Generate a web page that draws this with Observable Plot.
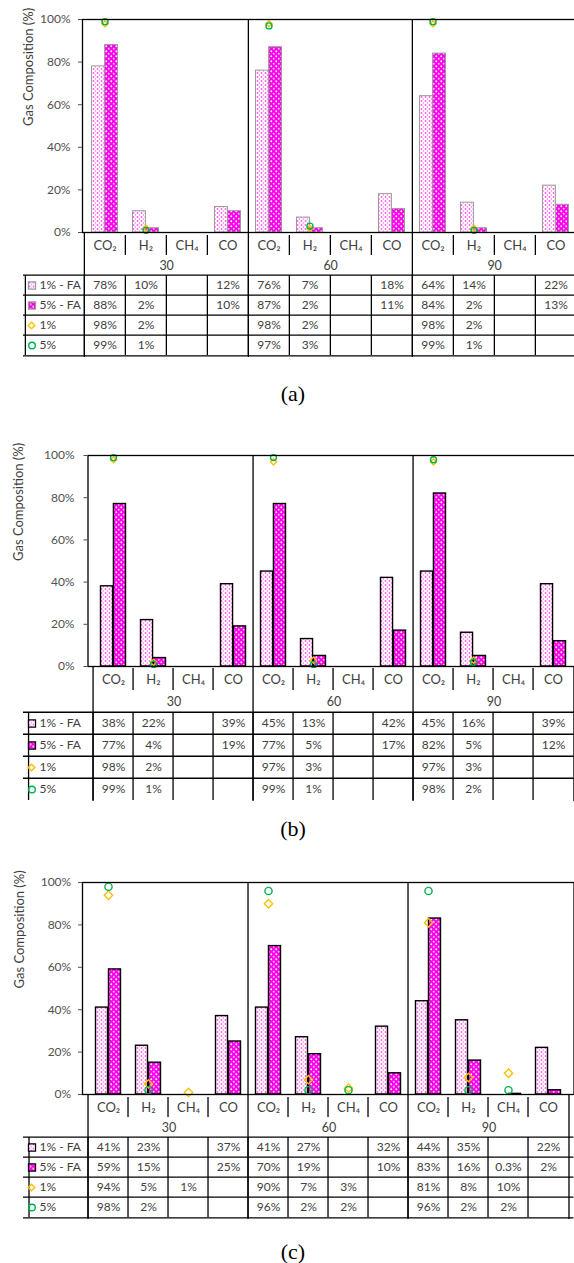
<!DOCTYPE html>
<html><head><meta charset="utf-8">
<script src="https://cdn.jsdelivr.net/npm/d3@7"></script>
<script src="https://cdn.jsdelivr.net/npm/@observablehq/plot@0.6"></script>
<style>
html,body{margin:0;padding:0;background:#fff;}
body{width:574px;height:1263px;overflow:hidden;position:relative;}
.abs{position:absolute;left:0;}
.cap{position:absolute;left:250px;width:86px;text-align:center;font-family:"Liberation Serif","DejaVu Serif",serif;font-size:22px;color:#000;line-height:22px;}
</style></head><body>
<svg width="0" height="0" style="position:absolute">
<defs>
<pattern id="pFA1" patternUnits="userSpaceOnUse" width="4" height="4">
 <rect width="4" height="4" fill="#fff"/>
 <rect x="0.75" y="0.25" width="1.5" height="1.5" fill="#ff33ee"/>
 <rect x="2.75" y="2.25" width="1.5" height="1.5" fill="#ff88ee"/>
</pattern>
<pattern id="pFA5" patternUnits="userSpaceOnUse" width="5" height="5">
 <rect width="5" height="5" fill="#ff00ee"/>
 <circle cx="1.25" cy="1.25" r="0.9" fill="#fff"/>
 <circle cx="3.75" cy="3.75" r="0.9" fill="#ffccf5"/>
</pattern>
</defs></svg>
<div id="root"></div>
<script>
// ---- data ----
const gases = ["CO₂", "H₂", "CH₄", "CO"];
const times = ["30", "60", "90"];
const rowNames = ["1% - FA", "5% - FA", "1%", "5%"];
const captions = ["(a)", "(b)", "(c)"];
const yTicks = [0, 20, 40, 60, 80, 100];
const yTitle = "Gas Composition (%)";

// order: 30 (CO2, H2, CH4, CO), 60 (...), 90 (...)
const aFA1 = [78, 10, null, 12, 76, 7, null, 18, 64, 14, null, 22];
const aFA5 = [88, 2, null, 10, 87, 2, null, 11, 84, 2, null, 13];
const aP1 = [98, 2, null, null, 98, 2, null, null, 98, 2, null, null];
const aP5 = [99, 1, null, null, 97, 3, null, null, 99, 1, null, null];

const bFA1 = [38, 22, null, 39, 45, 13, null, 42, 45, 16, null, 39];
const bFA5 = [77, 4, null, 19, 77, 5, null, 17, 82, 5, null, 12];
const bP1 = [98, 2, null, null, 97, 3, null, null, 97, 3, null, null];
const bP5 = [99, 1, null, null, 99, 1, null, null, 98, 2, null, null];

const cFA1 = [41, 23, null, 37, 41, 27, null, 32, 44, 35, null, 22];
const cFA5 = [59, 15, null, 25, 70, 19, null, 10, 83, 16, 0.3, 2];
const cP1 = [94, 5, 1, null, 90, 7, 3, null, 81, 8, 10, null];
const cP5 = [98, 2, null, null, 96, 2, 2, null, 96, 2, 2, null];

const seriesByPanel = [[aFA1, aFA5, aP1, aP5], [bFA1, bFA5, bP1, bP5], [cFA1, cFA5, cP1, cP5]];

// ---- layout (styles only) ----
const layouts = [
  {top: 0, axisX: 82, right: 577, plotH: 213, tableH: 125, capY: 394, titleX: 28, tickPad: 8, barStroke: "#9a9a9a", barSW: 1, dR: 2.8, cR: 3, bottomLine: true},
  {top: 436, axisX: 87.5, right: 578, plotH: 211, tableH: 135, capY: 829, titleX: 18.5, tickPad: 9.5, barStroke: "#000", barSW: 1.4, dR: 2.8, cR: 3, bottomLine: false},
  {top: 863, axisX: 82, right: 573.5, plotH: 212, tableH: 125, capY: 1252, titleX: 19, tickPad: 7.3, barStroke: "#000", barSW: 1.4, dR: 3.8, cR: 3.6, bottomLine: true}
];
const FONT = "Lato, 'Noto Sans', sans-serif";
const W = 580;
const TXT = "#404040";
const keys = times.flatMap(t => gases.map(g => `${t}|${g}`));
const root = document.getElementById("root");

function rowsOf(arr) {
  return arr.map((v, i) => ({key: keys[i], v})).filter(d => d.v != null);
}

function chart(series, L) {
  const bw = (L.right - L.axisX) / 12;
  const pad = 7.5;
  return Plot.plot({
    width: W, height: 19 + L.plotH,
    marginLeft: L.axisX, marginRight: W - L.right, marginTop: 19, marginBottom: 0,
    style: {fontFamily: FONT, fontSize: "12px", overflow: "visible", maxWidth: "none", background: "transparent"},
    x: {type: "band", domain: keys, padding: 0, axis: null},
    y: {domain: [0, 100], axis: null},
    marks: [
      Plot.barY(rowsOf(series[0]), {x: "key", y: "v", fill: "url(#pFA1)", stroke: L.barStroke, strokeWidth: L.barSW, insetLeft: pad, insetRight: bw / 2}),
      Plot.barY(rowsOf(series[1]), {x: "key", y: "v", fill: "url(#pFA5)", stroke: L.barStroke, strokeWidth: L.barSW, insetLeft: bw / 2, insetRight: pad}),
      Plot.dot(rowsOf(series[2]), {x: "key", y: "v", symbol: "diamond2", stroke: "#FFC000", fill: "none", r: L.dR, strokeWidth: 1.4}),
      Plot.dot(rowsOf(series[3]), {x: "key", y: "v", symbol: "circle", stroke: "#00B050", fill: "none", r: L.cR, strokeWidth: 1.4}),
      Plot.frame({stroke: "#000", strokeWidth: 1.3}),
      Plot.ruleX(keys.filter((k, i) => i > 0 && i % 4 === 0), {dx: -bw / 2, stroke: "#000", strokeWidth: 1.3}),
      Plot.axisY({ticks: yTicks, tickFormat: d => d + "%", tickSize: 4, tickPadding: L.tickPad, label: null, fontSize: 12, color: "#505050"}),
      Plot.text([yTitle], {text: d => d, frameAnchor: "left", rotate: -90, dx: L.titleX - L.axisX, fontSize: 13, fill: TXT})
    ]
  });
}

function table(series, L) {
  const bw = (L.right - L.axisX) / 12;
  const rowH = L.tableH / 6;
  const legendOffset = L.axisX - 23;
  const cells = [];
  rowNames.forEach((r, ri) => keys.forEach((k, i) => cells.push({row: r, key: k, v: series[ri][i]})));
  const cats = keys.map(k => ({key: k, gas: k.split("|")[1], first: k.endsWith("CO₂")}));
  const legend = rowNames.map(r => ({row: r}));
  const sw = 31.5 - L.axisX;
  return Plot.plot({
    width: W, height: L.tableH,
    marginLeft: L.axisX, marginRight: W - L.right, marginTop: 0, marginBottom: 0,
    style: {fontFamily: FONT, fontSize: "12px", overflow: "visible", maxWidth: "none", background: "transparent"},
    x: {type: "band", domain: keys, padding: 0, axis: null},
    y: {type: "band", domain: ["cat", "grp", ...rowNames], padding: 0, axis: null},
    marks: [
      Plot.text(cats, {x: "key", y: () => "cat", text: "gas", fontSize: 13, fill: TXT}),
      Plot.tickX(cats.filter(d => !d.first), {x: "key", y: () => "cat", dx: -bw / 2, stroke: "#000", strokeWidth: 1.3}),
      Plot.text(times, {x: t => `${t}|H₂`, y: () => "grp", text: d => d, dx: bw / 2, fontSize: 12.5, fill: TXT}),
      Plot.ruleX(keys.filter((k, i) => i % 4 === 0), {dx: -bw / 2, stroke: "#000", strokeWidth: 1.3}),
      Plot.ruleX([keys[11]], {dx: bw / 2, stroke: "#000", strokeWidth: 1.3}),
      Plot.tickX(cells, {x: "key", y: "row", dx: -bw / 2, stroke: "#000", strokeWidth: 1.3}),
      Plot.tickX(legend, {x: () => keys[0], y: "row", dx: -bw / 2 - legendOffset, stroke: "#000", strokeWidth: 1.3}),
      Plot.ruleY(rowNames, {y: d => d, dy: -rowH / 2, insetLeft: -legendOffset, stroke: "#000", strokeWidth: 1.3}),
      L.bottomLine ? Plot.ruleY([rowNames[3]], {y: d => d, dy: rowH / 2, insetLeft: -legendOffset, stroke: "#000", strokeWidth: 1.3}) : null,
      Plot.text(cells.filter(d => d.v != null), {x: "key", y: "row", text: d => d.v + "%", fontSize: 12, fill: TXT}),
      Plot.text(legend, {y: "row", text: "row", frameAnchor: "left", textAnchor: "start", dx: 39 - L.axisX, fontSize: 12, fill: TXT}),
      Plot.dot([legend[0]], {y: "row", frameAnchor: "left", dx: sw, symbol: "square", r: 4, fill: "url(#pFA1)", stroke: L.barStroke, strokeWidth: 1.2}),
      Plot.dot([legend[1]], {y: "row", frameAnchor: "left", dx: sw, symbol: "square", r: 4, fill: "url(#pFA5)", stroke: L.barStroke, strokeWidth: 1.2}),
      Plot.dot([legend[2]], {y: "row", frameAnchor: "left", dx: sw - 0.5, symbol: "diamond2", r: 3, fill: "none", stroke: "#FFC000", strokeWidth: 1.4}),
      Plot.dot([legend[3]], {y: "row", frameAnchor: "left", dx: sw, symbol: "circle", r: 3.3, fill: "none", stroke: "#00B050", strokeWidth: 1.4})
    ]
  });
}

seriesByPanel.forEach((series, i) => {
  const L = layouts[i];
  const c = chart(series, L);
  c.classList.add("abs");
  c.style.top = L.top + "px";
  root.appendChild(c);
  const t = table(series, L);
  t.classList.add("abs");
  t.style.top = (L.top + 19 + L.plotH) + "px";
  root.appendChild(t);
  const cap = document.createElement("div");
  cap.className = "cap";
  cap.textContent = captions[i];
  cap.style.top = (L.capY - 11) + "px";
  root.appendChild(cap);
});
</script>
</body></html>
